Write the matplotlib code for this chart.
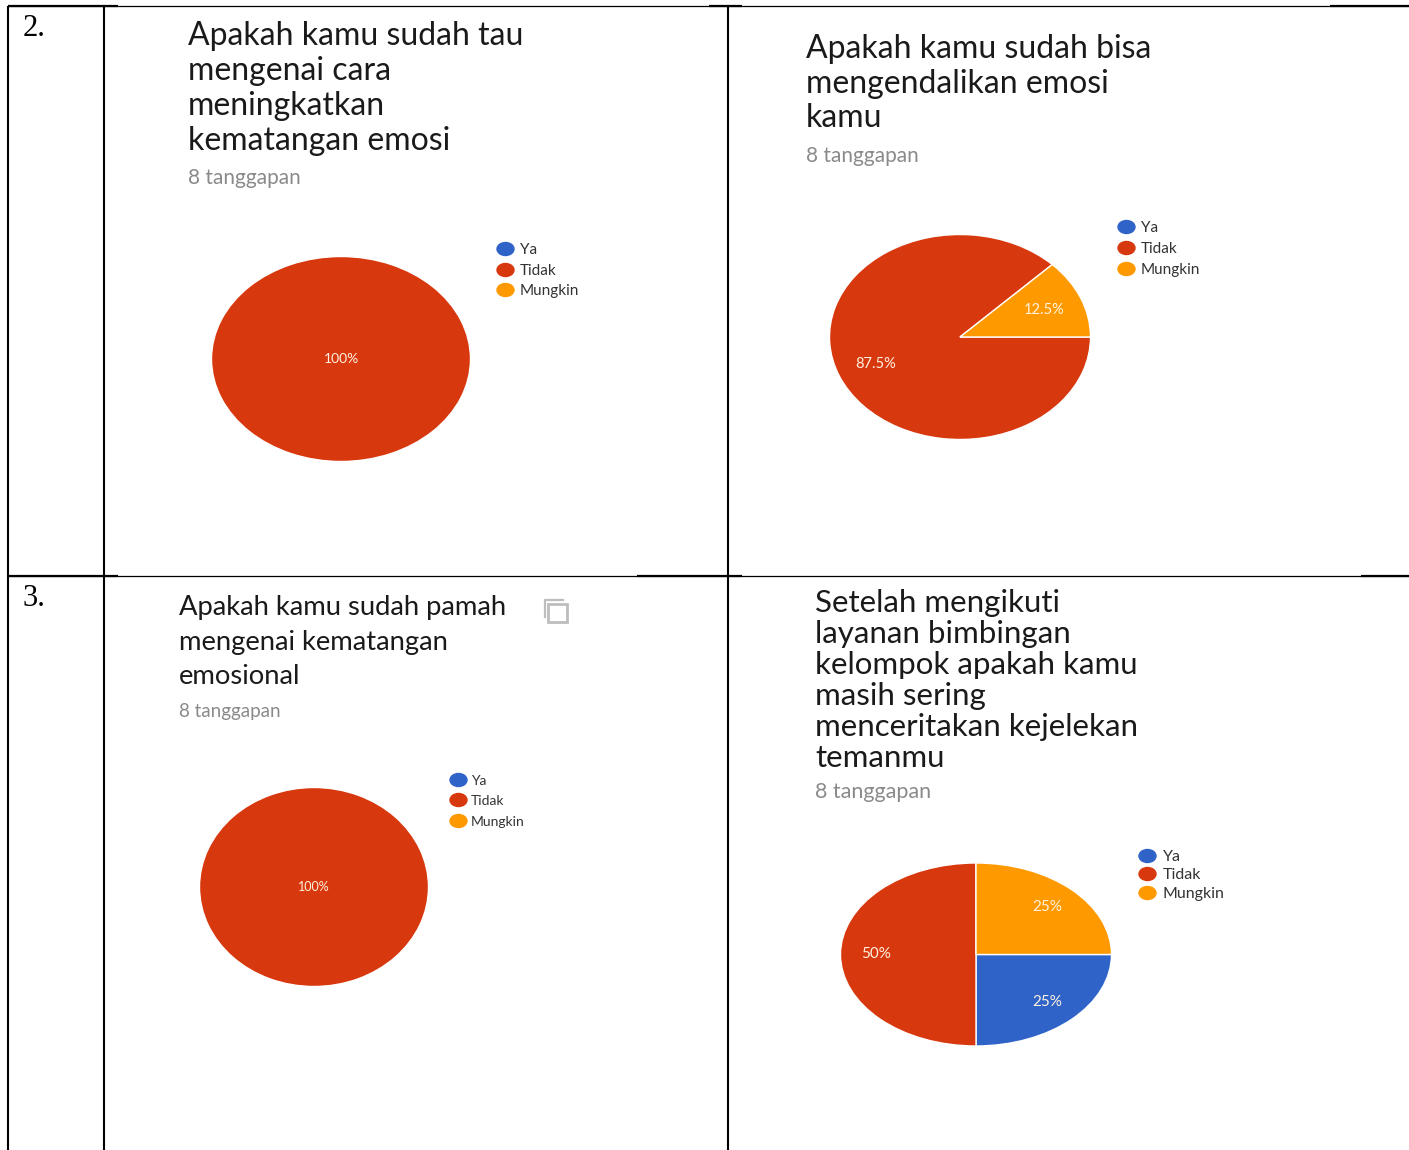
import matplotlib
matplotlib.use("Agg")
import matplotlib.pyplot as plt
from matplotlib.patches import Ellipse, Rectangle

W, H = 1409, 1150

categories = ["Ya", "Tidak", "Mungkin"]
colors = ["#2f63c8", "#d8380e", "#ff9900"]

values_a = [0, 100, 0]
values_b = [0, 87.5, 12.5]
values_c = [0, 100, 0]
values_d = [25, 50, 25]

title_a = ["Apakah kamu sudah tau", "mengenai cara", "meningkatkan", "kematangan emosi"]
title_b = ["Apakah kamu sudah bisa", "mengendalikan emosi", "kamu"]
title_c = ["Apakah kamu sudah pamah", "mengenai kematangan", "emosional"]
title_d = ["Setelah mengikuti", "layanan bimbingan", "kelompok apakah kamu", "masih sering",
           "menceritakan kejelekan", "temanmu"]
responses = "8 tanggapan"

plt.rcParams["font.family"] = ["Lato", "DejaVu Sans"]
fig = plt.figure(figsize=(W / 100, H / 100), dpi=100)

# page layer in pixel coordinates, y pointing down
page = fig.add_axes([0, 0, 1, 1])
page.set_xlim(0, W)
page.set_ylim(H, 0)
page.axis("off")

# table rules
for x in [8, 104, 728]:
    page.plot([x, x], [6, H], color="black", lw=1.5, solid_capstyle="butt")
for y in [6, 576]:
    page.plot([8, W], [y, y], color="black", lw=0.9, solid_capstyle="butt")
for y, x0, x1 in [(6, 8, 118), (6, 709, 742), (6, 1330, 1409),
                  (576, 8, 118), (576, 637, 742), (576, 1361, 1409)]:
    page.plot([x0, x1], [y, y], color="black", lw=1.6, solid_capstyle="butt")

page.text(23, 29, "2.", family="Liberation Serif", fontsize=22, va="center")
page.text(23, 598, "3.", family="Liberation Serif", fontsize=22, va="center")


def draw_card(values, title, tx, ty, fs, sub_y, sub_fs, box, leg_x, leg_ys, leg_tx, leg_fs, pct_fs, pct_dist):
    # baselines keep the line spacing even
    for line, y in zip(title, ty):
        page.text(tx, y, line, fontsize=fs, va="baseline", color="#1a1a1a")
    page.text(tx, sub_y, responses, fontsize=sub_fs, va="baseline", color="#8a8a8a")

    # legend keeps every answer, also the empty ones
    for name, color, y in zip(categories, colors, leg_ys):
        page.add_patch(Ellipse((leg_x, y), 17, 13, color=color))
        page.text(leg_tx, y + 1, name, fontsize=leg_fs, va="center", color="#333333")

    cx, cy, rx, ry = box
    ax = fig.add_axes([(cx - rx) / W, 1 - (cy + ry) / H, 2 * rx / W, 2 * ry / H])
    shown = [(v, c) for v, c in zip(values, colors) if v > 0]
    wedges, _, pcts = ax.pie(
        [s[0] for s in shown],
        colors=[s[1] for s in shown],
        startangle=0,
        counterclock=False,
        radius=1,
        autopct=lambda p: f"{p:g}%",
        pctdistance=pct_dist,
        wedgeprops={"edgecolor": "white", "linewidth": 1.0},
        textprops={"color": "#fff3e0", "fontsize": pct_fs},
    )
    if len(shown) == 1:
        pcts[0].set_position((0, 0))
    ax.set_aspect("auto")
    ax.set_xlim(-1, 1)
    ax.set_ylim(-1, 1)


draw_card(values_a, title_a, 188, [45, 80, 115, 150], 23, 184, 15,
          (341, 359, 129.5, 102.5), 505.5, [249, 270, 290], 520, 11, 10, 0.7)
draw_card(values_b, title_b, 806, [58, 93, 127], 23, 162, 15,
          (960, 337, 130.5, 102.5), 1126.5, [227, 248, 269], 1141, 11, 10.5, 0.7)
draw_card(values_c, title_c, 179, [615, 650, 684], 19.7, 717, 13.5,
          (314, 887, 114.5, 99.5), 458.5, [780, 800, 821], 471, 10, 9, 0.7)
draw_card(values_d, title_d, 815, [612, 643, 674, 705, 736, 767], 22.5, 798, 15.5,
          (976, 954.5, 135.5, 91.5), 1147.5, [856, 874, 893], 1163, 11.5, 11, 0.74)

# copy icon next to the third question
page.plot([545, 545, 563], [617, 600, 600], color="#bdbdbd", lw=1.6)
page.add_patch(Rectangle((548, 604), 19, 18, fill=False, edgecolor="#bdbdbd", lw=2))

fig.savefig("out.png", dpi=100)
